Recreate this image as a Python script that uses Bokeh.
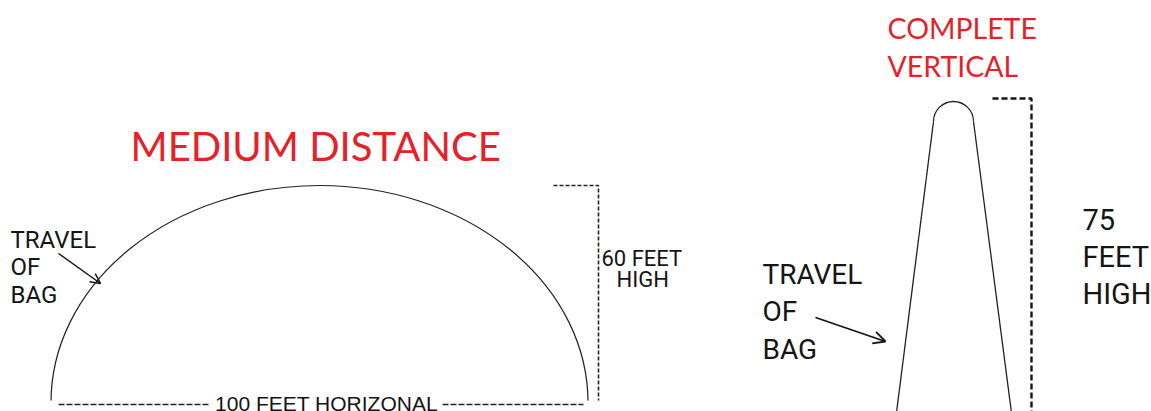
from bokeh.plotting import figure
from bokeh.models import Range1d, Arrow, OpenHead
from bokeh.core.properties import value
from bokeh.embed import file_html
from bokeh.resources import INLINE
import math

W, H = 1151, 411
RED = "#e2232a"
INK = "#151515"

def X(px): return px
def Y(py): return H - py

# ---- data (screen-pixel positions) ----
titles = ["MEDIUM DISTANCE", "COMPLETE", "VERTICAL"]
title_x = [130, 887, 887]
title_y = [145, 27, 65]
title_size = ["40px", "28.5px", "28.5px"]

left_labels = ["TRAVEL", "OF", "BAG"]
left_label_x = [10, 10, 10]
left_label_y = [239, 266, 294]

right_labels = ["TRAVEL", "OF", "BAG"]
right_label_x = [762, 762, 762]
right_label_y = [274, 311, 349]

h75_labels = ["75", "FEET", "HIGH"]
h75_x = [1082, 1082, 1082]
h75_y = [219, 256, 293]

h60_labels = ["60 FEET", "HIGH"]
h60_x = [601, 616]
h60_y = [258, 279]

horiz_label = "100 FEET HORIZONAL"
horiz_label_x = 326
horiz_label_y = 403

arc_center = (319, 402)
arc_size = (537, 434)

cap_center = (953, 121)
cap_radius = 20
cone_left = [(933, 121), (895, 420)]
cone_right = [(973, 121), (1012, 420)]

bracket60_x = [553, 598, 598]
bracket60_y = [185, 185, 400]
bracket75_x = [992, 1031, 1031]
bracket75_y = [98, 98, 420]

horiz_dash_left = [58, 210]
horiz_dash_right = [442, 583]
horiz_dash_y = 404

p = figure(width=W, height=H, output_backend="svg", toolbar_location=None,
           x_range=Range1d(0, W), y_range=Range1d(0, H),
           min_border=0, outline_line_color=None)
p.axis.visible = False
p.grid.visible = False
p.background_fill_color = "white"
p.border_fill_color = "white"

# medium distance arc
p.ellipse(x=[X(arc_center[0])], y=[Y(arc_center[1])], width=[arc_size[0]], height=[arc_size[1]],
          fill_alpha=0, line_color="#222222", line_width=1.2)
# hide the part of the ellipse below the ground line
p.quad(left=[X(40), X(578)], right=[X(57), X(596)], top=[Y(400), Y(400)], bottom=[Y(420), Y(420)],
       fill_color="white", line_color=None)

# vertical cone
p.arc(x=[X(cap_center[0])], y=[Y(cap_center[1])], radius=cap_radius,
      start_angle=0, end_angle=math.pi, line_color="#222222", line_width=1.3)
p.line([X(a) for a, b in cone_left], [Y(b) for a, b in cone_left], line_color="#222222", line_width=1.3)
p.line([X(a) for a, b in cone_right], [Y(b) for a, b in cone_right], line_color="#222222", line_width=1.3)

# dashed brackets
p.line([X(v) for v in bracket60_x], [Y(v) for v in bracket60_y], line_color="#222222",
       line_width=1.6, line_dash="4 2")
p.line([X(v) for v in bracket75_x], [Y(v) for v in bracket75_y], line_color=INK,
       line_width=2.4, line_dash="6 3")
p.line([X(v) for v in horiz_dash_left], [Y(horiz_dash_y)] * 2, line_color="#222222",
       line_width=1.5, line_dash="6 2")
p.line([X(v) for v in horiz_dash_right], [Y(horiz_dash_y)] * 2, line_color="#222222",
       line_width=1.5, line_dash="6 2")

# titles
for t, x, y, s in zip(titles, title_x, title_y, title_size):
    p.text(x=[X(x)], y=[Y(y)], text=[t], text_color=RED, text_font=value("Lato"),
           text_font_size=s, text_baseline="middle")

def labels(txts, xs, ys, size, font="Roboto"):
    p.text(x=[X(v) for v in xs], y=[Y(v) for v in ys], text=txts, text_color=INK,
           text_font=value(font), text_font_size=size, text_baseline="middle")

labels(left_labels, left_label_x, left_label_y, "24px")
labels(right_labels, right_label_x, right_label_y, "28px")
labels(h75_labels, h75_x, h75_y, "29px")
labels(h60_labels, h60_x, h60_y, "22px")
p.text(x=[X(horiz_label_x)], y=[Y(horiz_label_y)], text=[horiz_label], text_color=INK,
       text_font=value("Liberation Sans"), text_font_size="21px",
       text_baseline="middle", text_align="center")

# arrows
p.add_layout(Arrow(end=OpenHead(size=10, line_width=1.5, line_color=INK),
                   x_start=X(58), y_start=Y(253), x_end=X(100), y_end=Y(283),
                   line_width=1.5, line_color=INK))
p.add_layout(Arrow(end=OpenHead(size=12, line_width=1.8, line_color=INK),
                   x_start=X(815), y_start=Y(317), x_end=X(885), y_end=Y(341),
                   line_width=1.8, line_color=INK))

open("out.html", "w").write(file_html(p, INLINE))
